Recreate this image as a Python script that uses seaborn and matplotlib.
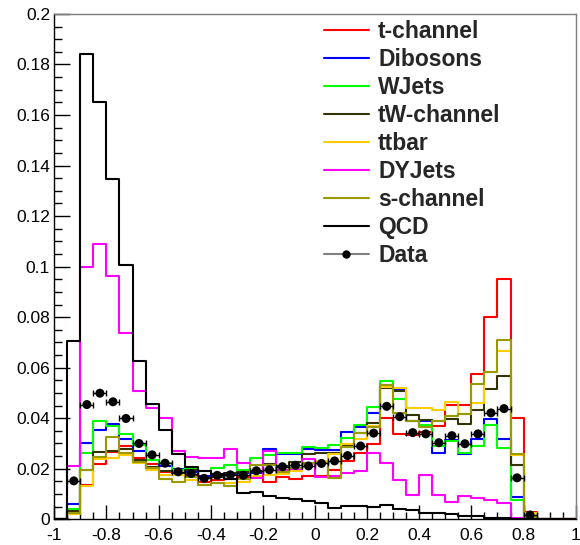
import numpy as np
import pandas as pd
import matplotlib
matplotlib.use("Agg")
import matplotlib.pyplot as plt
from matplotlib.lines import Line2D
from matplotlib.ticker import MultipleLocator, FuncFormatter
import seaborn as sns

# 40 bins of width 0.05 on [-1, 1]
bin_edges = np.linspace(-1.0, 1.0, 41)
bin_centers = 0.5 * (bin_edges[:-1] + bin_edges[1:])

t_channel = [0, 0.0024, 0.0135, 0.0219, 0.0268, 0.0290, 0.0244, 0.0219, 0.0189, 0.0182,
             0.0171, 0.0149, 0.0156, 0.0159, 0.0168, 0.0168, 0.0149, 0.0168, 0.0158, 0.0171,
             0.0172, 0.0195, 0.0232, 0.0261, 0.0298, 0.0400, 0.0338, 0.0332, 0.0345, 0.0370,
             0.0453, 0.0453, 0.0575, 0.0800, 0.0950, 0.0400, 0.0028, 0, 0, 0]
dibosons = [0, 0.0061, 0.0303, 0.0354, 0.0379, 0.0318, 0.0272, 0.0234, 0.0211, 0.0198,
            0.0189, 0.0171, 0.0175, 0.0178, 0.0183, 0.0185, 0.0278, 0.0257, 0.0257, 0.0277,
            0.0274, 0.0275, 0.0347, 0.0367, 0.0420, 0.0532, 0.0512, 0.0387, 0.0387, 0.0261,
            0.0314, 0.0257, 0.0316, 0.0396, 0.0318, 0.0088, 0.0012, 0, 0, 0]
wjets = [0, 0.0041, 0.0261, 0.0388, 0.0371, 0.0338, 0.0294, 0.0235, 0.0222, 0.0195,
         0.0202, 0.0193, 0.0202, 0.0215, 0.0195, 0.0242, 0.0255, 0.0261, 0.0264, 0.0288,
         0.0281, 0.0294, 0.0320, 0.0375, 0.0446, 0.0546, 0.0477, 0.0387, 0.0372, 0.0289,
         0.0311, 0.0264, 0.0291, 0.0372, 0.0284, 0.0077, 0.0010, 0, 0, 0]
tw_channel = [0, 0.0031, 0.0195, 0.0268, 0.0272, 0.0278, 0.0235, 0.0206, 0.0193, 0.0182,
              0.0195, 0.0162, 0.0168, 0.0183, 0.0187, 0.0190, 0.0219, 0.0210, 0.0225, 0.0260,
              0.0262, 0.0262, 0.0294, 0.0340, 0.0380, 0.0519, 0.0508, 0.0414, 0.0393, 0.0387,
              0.0395, 0.0378, 0.0433, 0.0516, 0.0569, 0.0215, 0.0010, 0, 0, 0]
ttbar = [0, 0.0019, 0.0132, 0.0239, 0.0244, 0.0255, 0.0224, 0.0195, 0.0177, 0.0176,
         0.0156, 0.0136, 0.0143, 0.0145, 0.0149, 0.0171, 0.0175, 0.0179, 0.0193, 0.0219,
         0.0232, 0.0258, 0.0298, 0.0317, 0.0370, 0.0525, 0.0520, 0.0440, 0.0440, 0.0433,
         0.0464, 0.0417, 0.0462, 0.0581, 0.0667, 0.0255, 0.0024, 0, 0, 0]
dyjets = [0, 0.0210, 0.1000, 0.1090, 0.0964, 0.0739, 0.0508, 0.0440, 0.0400, 0.0270,
          0.0248, 0.0244, 0.0244, 0.0278, 0.0222, 0.0165, 0.0270, 0.0195, 0.0200, 0.0240,
          0.0169, 0.0170, 0.0182, 0.0193, 0.0261, 0.0222, 0.0156, 0.0096, 0.0175, 0.0096,
          0.0070, 0.0092, 0.0083, 0.0076, 0.0066, 0.0006, 0, 0, 0, 0]
s_channel = [0, 0.0024, 0.0195, 0.0248, 0.0325, 0.0264, 0.0228, 0.0202, 0.0160, 0.0149,
             0.0166, 0.0136, 0.0143, 0.0133, 0.0159, 0.0215, 0.0215, 0.0187, 0.0202, 0.0222,
             0.0222, 0.0162, 0.0288, 0.0340, 0.0367, 0.0532, 0.0420, 0.0387, 0.0364, 0.0387,
             0.0409, 0.0417, 0.0535, 0.0581, 0.0710, 0.0257, 0.0010, 0, 0, 0]
qcd = [0, 0.0707, 0.1840, 0.1650, 0.1348, 0.1007, 0.0627, 0.0457, 0.0354, 0.0260,
       0.0206, 0.0190, 0.0180, 0.0160, 0.0103, 0.0108, 0.0094, 0.0083, 0.0080, 0.0071,
       0.0063, 0.0044, 0.0054, 0.0054, 0.0049, 0.0058, 0.0040, 0.0038, 0.0024, 0.0024,
       0.0021, 0.0014, 0.0014, 0.0006, 0.0005, 0.0003, 0, 0, 0, 0]
data = [np.nan, 0.0152, 0.0454, 0.0499, 0.0465, 0.0399, 0.0300, 0.0255, 0.0222, 0.0188,
        0.0181, 0.0162, 0.0174, 0.0176, 0.0174, 0.0192, 0.0196, 0.0208, 0.0214, 0.0211,
        0.0221, 0.0231, 0.0252, 0.0290, 0.0341, 0.0447, 0.0406, 0.0343, 0.0338, 0.0303,
        0.0331, 0.0299, 0.0338, 0.0421, 0.0438, 0.0164, 0.0017, np.nan, np.nan, np.nan]

processes = ["t-channel", "Dibosons", "WJets", "tW-channel", "ttbar",
             "DYJets", "s-channel", "QCD"]
series = [t_channel, dibosons, wjets, tw_channel, ttbar, dyjets, s_channel, qcd]
colors = ["#ff0000", "#0000ff", "#00ff00", "#333300", "#ffcc00",
          "#ff00ff", "#999900", "#000000"]

sns.set_theme(style="white")
plt.rcParams["font.family"] = ["Liberation Sans", "DejaVu Sans"]

fig = plt.figure(figsize=(5.8, 5.45), dpi=100)
ax = fig.add_axes([0.0936, 0.0472, 0.8990, 0.9272])

for name, vals, col in zip(processes, series, colors):
    frame = pd.DataFrame({"x": bin_centers, "w": np.asarray(vals, dtype=float)})
    sns.histplot(data=frame, x="x", weights="w", bins=list(bin_edges), element="step",
                 fill=False, color=col, linewidth=1.5, ax=ax, legend=False)

data_arr = np.asarray(data, dtype=float)
mask = ~np.isnan(data_arr)
ax.errorbar(bin_centers[mask], data_arr[mask], xerr=0.025, fmt="none",
            ecolor="black", elinewidth=1.0, capsize=2, capthick=1.0, zorder=5)
sns.scatterplot(x=bin_centers[mask], y=data_arr[mask], color="black", s=42,
                edgecolor="none", ax=ax, zorder=6, legend=False)

ax.set_xlim(-1, 1)
ax.set_ylim(0, 0.2)
ax.set_xlabel("")
ax.set_ylabel("")

ax.xaxis.set_major_locator(MultipleLocator(0.2))
ax.xaxis.set_minor_locator(MultipleLocator(0.05))
ax.yaxis.set_major_locator(MultipleLocator(0.02))
ax.yaxis.set_minor_locator(MultipleLocator(0.005))


def fmt(v, pos):
    s = "%.2f" % v
    s = s.rstrip("0").rstrip(".")
    if s in ("-0", ""):
        s = "0"
    return s


ax.xaxis.set_major_formatter(FuncFormatter(fmt))
ax.yaxis.set_major_formatter(FuncFormatter(fmt))

ax.tick_params(axis="both", which="both", direction="in", top=False, right=False,
               bottom=True, left=True, colors="black", labelsize=12.5, width=1.0)
ax.tick_params(axis="y", which="major", length=11.3, pad=3)
ax.tick_params(axis="y", which="minor", length=5.8)
ax.tick_params(axis="x", which="major", length=10.3, pad=6)
ax.tick_params(axis="x", which="minor", length=5.0)

for side in ("left", "bottom"):
    ax.spines[side].set_color("black")
    ax.spines[side].set_linewidth(1.0)
for side in ("top", "right"):
    ax.spines[side].set_color("#7f7f7f")
    ax.spines[side].set_linewidth(1.0)
ax.grid(False)

handles = [Line2D([0], [0], color=c, lw=1.5) for c in colors]
handles.append(Line2D([0], [0], color="#808080", lw=1.5, marker="o",
                      markerfacecolor="black", markeredgecolor="black", markersize=5))
labels = processes + ["Data"]
leg = ax.legend(handles, labels, loc="upper left", bbox_to_anchor=(0.506, 1.0),
                frameon=False, borderaxespad=0.0, borderpad=0.25,
                prop={"weight": "bold", "size": 16.5}, handlelength=1.95,
                handletextpad=0.42, labelspacing=0.22)

fig.savefig("out.png", dpi=100)
